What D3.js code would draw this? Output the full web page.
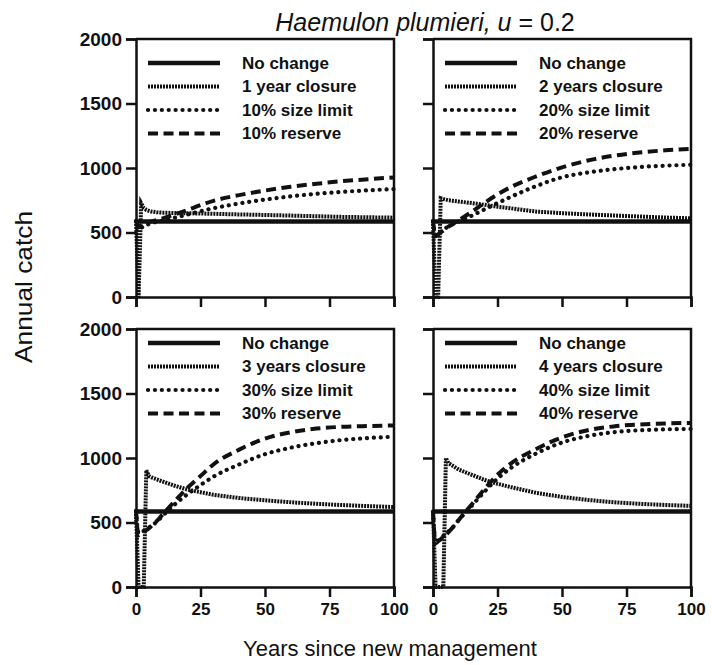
<!DOCTYPE html>
<html>
<head>
<meta charset="utf-8">
<script src="https://cdn.jsdelivr.net/npm/d3@7"></script>
<style>
  body { margin: 0; background: #fff; }
  text { font-family: "Liberation Sans", Arial, sans-serif; fill: #111; }
</style>
</head>
<body>
<script>
const width = 712;
const height = 665;

// years sampled along each curve
const years = [0, 1, 2, 3, 4, 5, 6, 8, 10, 15, 20, 25, 30, 40, 50, 60, 70, 80, 90, 100];

const noChangeYears = [0, 100];
const noChange = [585, 585];

const closure1 = [590, 0, 727, 690, 675, 668, 662, 657, 654, 651, 649, 647, 645, 640, 636, 631, 626, 621, 618, 615];
const size10 = [590, 520, 535, 548, 558, 566, 573, 583, 592, 615, 640, 665, 688, 725, 755, 780, 800, 815, 827, 836];
const reserve10 = [590, 545, 556, 566, 574, 580, 586, 596, 608, 640, 675, 712, 745, 790, 825, 855, 878, 898, 913, 927];

const closure2 = [590, 0, 0, 766, 760, 755, 750, 745, 740, 728, 715, 700, 688, 662, 650, 640, 632, 624, 616, 610];
const size20 = [590, 480, 490, 505, 520, 535, 548, 568, 585, 630, 680, 728, 775, 860, 928, 965, 990, 1008, 1018, 1025];
const reserve20 = [590, 470, 485, 500, 515, 530, 545, 570, 595, 660, 730, 795, 850, 935, 1005, 1058, 1095, 1120, 1137, 1148];

const closure3 = [590, 0, 0, 0, 905, 860, 850, 835, 820, 785, 755, 735, 715, 690, 672, 657, 645, 635, 627, 620];
const size30 = [590, 420, 425, 435, 445, 460, 475, 505, 545, 640, 720, 790, 855, 950, 1030, 1080, 1115, 1140, 1155, 1165];
const reserve30 = [590, 400, 410, 425, 440, 455, 475, 510, 555, 665, 770, 860, 950, 1065, 1150, 1200, 1228, 1242, 1248, 1252];

const closure4 = [585, 0, 0, 0, 0, 1000, 960, 935, 910, 870, 830, 800, 775, 730, 698, 675, 657, 645, 636, 629];
const size40 = [585, 345, 360, 375, 395, 410, 430, 470, 520, 630, 740, 840, 920, 1035, 1120, 1170, 1200, 1215, 1222, 1225];
const reserve40 = [585, 340, 355, 370, 390, 405, 425, 470, 520, 640, 760, 870, 955, 1070, 1160, 1215, 1245, 1260, 1268, 1272];

const closureLabels = ['1 year closure', '2 years closure', '3 years closure', '4 years closure'];
const sizeLabels = ['10% size limit', '20% size limit', '30% size limit', '40% size limit'];
const reserveLabels = ['10% reserve', '20% reserve', '30% reserve', '40% reserve'];

const yTicks = [0, 500, 1000, 1500, 2000];
const xTicks = [0, 25, 50, 75, 100];

const panels = [
    {closure: closure1, size: size10, reserve: reserve10, col: 0, row: 0},
    {closure: closure2, size: size20, reserve: reserve20, col: 1, row: 0},
    {closure: closure3, size: size30, reserve: reserve30, col: 0, row: 1},
    {closure: closure4, size: size40, reserve: reserve40, col: 1, row: 1}
];

const colX = [136, 433];
const rowY = [39, 329];
const pw = 258;
const ph = 258;

const styles = {
    noChange: {w: 4.5, dash: null, cap: 'butt'},
    closure: {w: 4, dash: '2,1', cap: 'butt'},
    size: {w: 4.2, dash: '0.1,6.8', cap: 'round'},
    reserve: {w: 4, dash: '10,5.5', cap: 'butt'}
};

const svg = d3.select('body')
    .append('svg')
    .attr('width', width)
    .attr('height', height);

const x = d3.scaleLinear().domain([0, 100]).range([0, pw]);
const y = d3.scaleLinear().domain([0, 2000]).range([ph, 0]);

const line = (curve) => d3.line()
    .x(d => x(d[0]))
    .y(d => y(d[1]))
    .curve(curve);

const styled = (sel, s) => sel
    .attr('fill', 'none')
    .attr('stroke', '#111')
    .attr('stroke-width', s.w)
    .attr('stroke-dasharray', s.dash)
    .attr('stroke-linecap', s.cap);

panels.forEach((p, i) => {
    const g = svg.append('g')
        .attr('transform', `translate(${colX[p.col]},${rowY[p.row]})`);

    // series
    g.append('path')
        .attr('d', line(d3.curveLinear)(d3.zip(noChangeYears, noChange)))
        .call(styled, styles.noChange);
    g.append('path')
        .attr('d', line(d3.curveLinear)(d3.zip(years, p.closure)))
        .call(styled, styles.closure);
    g.append('path')
        .attr('d', line(d3.curveMonotoneX)(d3.zip(years, p.size)))
        .call(styled, styles.size);
    g.append('path')
        .attr('d', line(d3.curveMonotoneX)(d3.zip(years, p.reserve)))
        .call(styled, styles.reserve);

    // frame
    g.append('path')
        .attr('d', `M0,0H${pw}V${ph}`)
        .attr('fill', 'none')
        .attr('stroke', '#111')
        .attr('stroke-width', 2.5);

    const yAxis = d3.axisLeft(y).tickValues(yTicks).tickSize(10).tickPadding(4)
        .tickFormat(p.col === 0 ? d3.format('d') : '');
    const xAxis = d3.axisBottom(x).tickValues(xTicks).tickSize(10).tickPadding(6)
        .tickFormat(p.row === 1 ? d3.format('d') : '');

    const ya = g.append('g').call(yAxis);
    const xa = g.append('g').attr('transform', `translate(0,${ph})`).call(xAxis);
    [ya, xa].forEach(a => {
        a.select('.domain').attr('stroke', '#111').attr('stroke-width', 2.5);
        a.selectAll('.tick line').attr('stroke', '#111').attr('stroke-width', 2.5);
        a.selectAll('text')
            .attr('fill', '#111')
            .style('font-family', '"Liberation Sans", Arial, sans-serif')
            .style('font-weight', 'bold');
    });
    ya.selectAll('text').style('font-size', '19px');
    xa.selectAll('text').style('font-size', '17px');

    // legend
    const legendTop = p.row === 0 ? 24 : 14;
    const items = [
        ['No change', styles.noChange],
        [closureLabels[i], styles.closure],
        [sizeLabels[i], styles.size],
        [reserveLabels[i], styles.reserve]
    ];
    const lg = g.append('g').attr('transform', `translate(12,${legendTop})`);
    items.forEach(([label, s], k) => {
        const ly = k * 23.5;
        lg.append('path')
            .attr('d', `M0,${ly}H72`)
            .call(styled, s);
        lg.append('text')
            .attr('x', 94)
            .attr('y', ly)
            .attr('dy', '0.35em')
            .style('font-size', '17px')
            .style('font-weight', 'bold')
            .text(label);
    });
});

// title
const title = svg.append('text')
    .attr('x', 425)
    .attr('y', 31)
    .attr('text-anchor', 'middle')
    .style('font-size', '25px');
title.append('tspan').style('font-style', 'italic').text('Haemulon plumieri, u');
title.append('tspan').text(' = 0.2');

// axis titles
svg.append('text')
    .attr('x', 390)
    .attr('y', 656)
    .attr('text-anchor', 'middle')
    .style('font-size', '22px')
    .text('Years since new management');

svg.append('text')
    .attr('transform', 'translate(32,287) rotate(-90)')
    .attr('text-anchor', 'middle')
    .attr('textLength', 152)
    .attr('lengthAdjust', 'spacingAndGlyphs')
    .style('font-size', '24px')
    .text('Annual catch');
</script>
</body>
</html>
